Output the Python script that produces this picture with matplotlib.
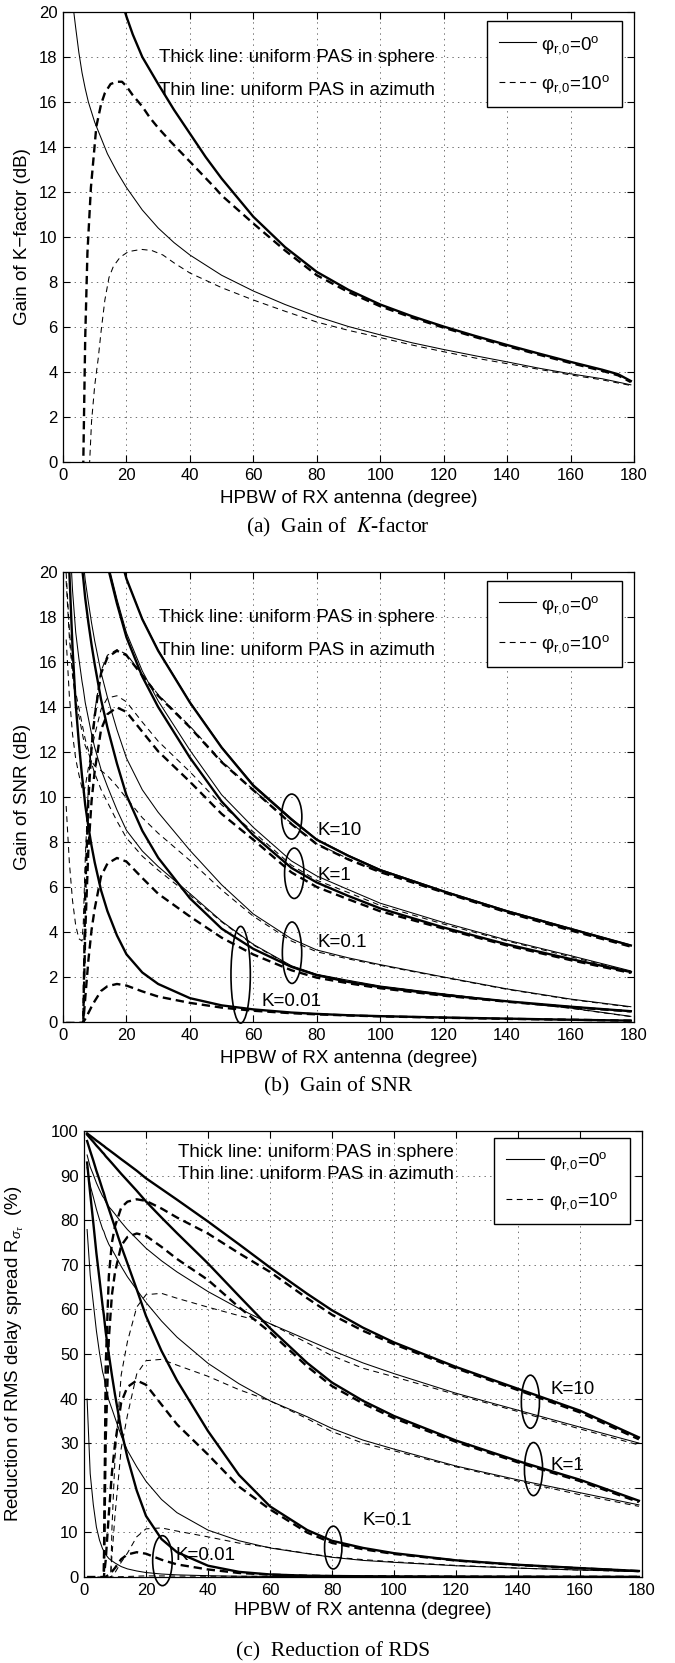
import numpy as np
import matplotlib
matplotlib.use('Agg')
import matplotlib.pyplot as plt
from matplotlib.patches import Ellipse
from matplotlib.lines import Line2D

plt.rcParams['font.family'] = ['Liberation Sans', 'DejaVu Sans']
plt.rcParams['mathtext.fontset'] = 'custom'
plt.rcParams['mathtext.rm'] = 'Liberation Sans'
plt.rcParams['mathtext.it'] = 'Liberation Sans:italic'
plt.rcParams['mathtext.bf'] = 'Liberation Sans:bold'
plt.rcParams['lines.scale_dashes'] = False

# ---------------- data: panel (a) gain of K-factor (dB) ----------------
A_X_SPH_0 = [18, 20, 22, 25, 30, 35, 40, 45, 50, 60, 70, 80, 90, 100, 110, 120, 130, 140, 150, 160, 170, 175, 179]
A_Y_SPH_0 = [20.7, 19.8, 19.0, 18.0, 16.8, 15.65, 14.6, 13.55, 12.6, 10.9, 9.55, 8.45, 7.65, 7.0, 6.48, 6.02, 5.6, 5.2, 4.82, 4.45, 4.1, 3.9, 3.6]
A_X_SPH_10 = [6.0, 6.4, 7.0, 7.7, 8.8, 10.5, 12, 13.2, 15, 17, 18.6, 20, 22, 25, 27.4, 30, 34.2, 40, 47.8, 50, 60, 70, 80, 90, 100, 110, 120, 130, 140, 150, 160, 170, 175, 179]
A_Y_SPH_10 = [-5, 0.0, 5.5, 9.3, 12.2, 14.9, 15.9, 16.4, 16.8, 16.9, 16.9, 16.7, 16.3, 15.8, 15.3, 14.85, 14.2, 13.35, 12.2, 11.85, 10.6, 9.4, 8.3, 7.55, 6.92, 6.42, 5.97, 5.55, 5.15, 4.77, 4.4, 4.05, 3.85, 3.55]
A_X_AZI_0 = [3.0, 3.4, 4, 5, 6, 7, 8, 10, 12, 14, 17, 20, 25, 30, 35, 40, 50, 60, 70, 80, 90, 100, 110, 120, 130, 140, 150, 160, 170, 179]
A_Y_AZI_0 = [21.0, 20.0, 19.3, 18.2, 17.3, 16.6, 16.0, 15.1, 14.4, 13.7, 12.9, 12.2, 11.2, 10.4, 9.75, 9.2, 8.3, 7.6, 7.0, 6.47, 6.02, 5.65, 5.3, 5.0, 4.72, 4.45, 4.17, 3.92, 3.7, 3.43]
A_X_AZI_10 = [8.2, 8.4, 9, 10, 11.1, 12, 13.2, 14.5, 15.9, 18, 20.6, 24.7, 28, 31.5, 35, 40, 50, 60, 70, 80, 90, 100, 110, 120, 130, 140, 150, 160, 170, 179]
A_Y_AZI_10 = [-2, 0.0, 1.8, 3.4, 4.6, 5.8, 7.2, 8.2, 8.7, 9.1, 9.35, 9.45, 9.4, 9.2, 8.85, 8.4, 7.75, 7.2, 6.7, 6.22, 5.85, 5.53, 5.2, 4.9, 4.62, 4.37, 4.12, 3.87, 3.65, 3.4]

# ---------------- shared HPBW grid for panels (b) and (c) ----------------
HPBW = [1, 2, 3, 4, 5, 6, 6.4, 7, 8, 9, 10, 12, 14, 17, 20, 25, 30, 40, 50, 60, 72, 80, 90, 100, 120, 140, 160, 179]

# ---------------- panel (b) gain of SNR (dB) ----------------
B_SPH_0_K10 = [45.6, 39.6, 36.2, 33.6, 31.8, 30.2, 29.7, 28.8, 27.7, 26.7, 25.8, 24.2, 22.9, 21.2, 19.7, 17.9, 16.5, 14.2, 12.2, 10.5, 9.0, 8.1, 7.38, 6.75, 5.8, 4.92, 4.14, 3.4]
B_SPH_0_K1 = [43.0, 37.0, 33.6, 31.0, 29.2, 27.6, 27.1, 26.2, 25.1, 24.1, 23.2, 21.6, 20.3, 18.6, 17.1, 15.35, 14.0, 11.75, 9.8, 8.3, 6.85, 6.2, 5.6, 5.05, 4.2, 3.45, 2.8, 2.22]
B_SPH_0_K01 = [35.6, 29.6, 26.2, 23.6, 21.8, 20.2, 19.7, 18.84, 17.75, 16.77, 15.89, 14.33, 13.09, 11.49, 10.08, 8.5, 7.3, 5.5, 4.15, 3.25, 2.45, 2.08, 1.78, 1.55, 1.2, 0.92, 0.68, 0.48]
B_SPH_0_K001 = [25.97, 20.0, 16.65, 14.13, 12.41, 10.92, 10.46, 9.65, 8.68, 7.83, 7.09, 5.85, 4.93, 3.85, 3.01, 2.2, 1.69, 1.06, 0.74, 0.56, 0.42, 0.36, 0.3, 0.26, 0.2, 0.15, 0.1, 0.06]

B_SPH_10_K10 = [None, None, None, None, None, -3.4, 0.0, 5.7, 9.9, 12.2, 13.6, 15.5, 16.2, 16.5, 16.3, 15.4, 14.5, 13.1, 11.55, 10.3, 8.8, 7.9, 7.22, 6.66, 5.76, 4.87, 4.07, 3.35]
B_SPH_10_K1 = [None, None, None, None, None, -1.5, 0.0, 3.96, 7.67, 9.82, 11.16, 13.0, 13.68, 13.98, 13.78, 12.9, 12.03, 10.68, 9.25, 8.1, 6.65, 6.0, 5.45, 4.92, 4.15, 3.4, 2.75, 2.18]
B_SPH_10_K01 = [None, None, None, None, None, -0.24, 0.0, 1.04, 2.74, 4.09, 5.04, 6.48, 7.04, 7.29, 7.13, 6.4, 5.7, 4.69, 3.75, 3.0, 2.3, 1.97, 1.72, 1.5, 1.17, 0.9, 0.66, 0.47]
B_SPH_10_K001 = [-0.04, -0.04, -0.04, -0.04, -0.04, -0.03, 0.0, 0.13, 0.4, 0.68, 0.93, 1.38, 1.59, 1.69, 1.62, 1.36, 1.13, 0.85, 0.64, 0.5, 0.39, 0.34, 0.29, 0.25, 0.19, 0.14, 0.1, 0.06]

B_AZI_0_K10 = [45.6, 39.6, 36.2, 33.6, 31.8, 30.2, 29.7, 28.8, 27.7, 26.7, 25.8, 24.2, 22.9, 21.2, 19.7, 17.92, 16.53, 14.23, 12.23, 10.55, 9.05, 8.12, 7.41, 6.78, 5.83, 4.95, 4.16, 3.42]
B_AZI_0_K1 = [43.0, 37.0, 33.6, 31.0, 29.2, 27.7, 27.2, 26.3, 25.2, 24.3, 23.3, 21.7, 20.5, 18.8, 17.3, 15.6, 14.27, 12.08, 10.1, 8.65, 7.16, 6.49, 5.88, 5.28, 4.42, 3.64, 2.95, 2.27]
B_AZI_0_K01 = [35.7, 29.8, 26.5, 24.1, 22.4, 20.93, 20.46, 19.65, 18.66, 17.74, 16.93, 15.53, 14.43, 12.99, 11.73, 10.32, 9.32, 7.63, 6.1, 4.8, 3.7, 3.2, 2.85, 2.55, 2.0, 1.47, 1.02, 0.68]
B_AZI_0_K001 = [26.9, 21.9, 19.19, 17.33, 16.16, 15.13, 14.8, 14.2, 13.5, 12.8, 12.2, 11.22, 10.47, 9.43, 8.52, 7.6, 6.91, 5.71, 4.48, 3.45, 2.5, 2.12, 1.85, 1.6, 1.25, 0.92, 0.62, 0.25]

B_AZI_10_K10 = [9.6, 7.1, 5.4, 4.3, 3.7, 3.6, 4.4, 7.2, 10.5, 12.5, 13.8, 15.6, 16.3, 16.55, 16.35, 15.45, 14.55, 13.15, 11.6, 10.32, 8.83, 7.93, 7.25, 6.69, 5.79, 4.9, 4.1, 3.38]
B_AZI_10_K1 = [17.0, 14.5, 12.8, 11.7, 11.0, 10.4, 10.2, 10.45, 11.3, 12.1, 12.75, 13.9, 14.4, 14.5, 14.23, 13.33, 12.48, 11.12, 9.65, 8.45, 6.97, 6.3, 5.75, 5.18, 4.35, 3.6, 2.9, 2.24]
B_AZI_10_K01 = [19.6, 17.1, 15.4, 14.3, 13.6, 12.9, 12.6, 12.28, 11.96, 11.6, 11.38, 11.17, 10.95, 10.48, 9.95, 9.08, 8.39, 7.18, 5.87, 4.7, 3.6, 3.12, 2.8, 2.52, 1.98, 1.45, 1.0, 0.66]
B_AZI_10_K001 = [19.96, 17.45, 15.75, 14.65, 13.96, 13.26, 12.98, 12.57, 12.08, 11.5, 11.05, 10.33, 9.77, 8.93, 8.18, 7.37, 6.75, 5.63, 4.45, 3.42, 2.48, 2.1, 1.83, 1.58, 1.24, 0.91, 0.61, 0.24]

# ---------------- panel (c) reduction of RMS delay spread (%) ----------------
C_SPH_0_K10 = [99.46, 98.93, 98.41, 97.86, 97.37, 96.83, 96.64, 96.28, 95.78, 95.26, 94.74, 93.68, 92.66, 91.1, 89.4, 87.0, 84.6, 79.7, 74.6, 69.4, 63.5, 59.8, 55.9, 52.6, 47.1, 42.2, 37.3, 31.3]
C_SPH_0_K1 = [99.18, 98.37, 97.59, 96.74, 95.99, 95.18, 94.9, 94.34, 93.58, 92.8, 92.0, 90.4, 88.88, 86.6, 84.2, 80.6, 77.1, 70.3, 63.0, 55.8, 48.0, 43.6, 39.5, 36.1, 30.6, 26.0, 21.8, 17.1]
C_SPH_0_K01 = [97.75, 95.51, 93.37, 91.07, 89.03, 86.83, 86.06, 84.57, 82.54, 80.46, 78.4, 74.2, 70.33, 64.51, 58.52, 50.7, 44.07, 32.71, 22.87, 15.84, 10.53, 8.12, 6.52, 5.34, 3.74, 2.74, 2.0, 1.35]
C_SPH_0_K001 = [92.92, 85.96, 79.42, 72.6, 66.77, 60.78, 58.74, 54.93, 50.0, 45.26, 40.89, 32.99, 26.82, 19.4, 13.69, 8.5, 5.56, 2.53, 1.15, 0.57, 0.29, 0.22, 0.17, 0.13, 0.09, 0.07, 0.05, 0.03]

C_SPH_10_K10 = [None, None, None, None, None, -44, 0.0, 47.19, 67.4, 74.94, 78.64, 82.82, 84.15, 84.69, 84.33, 82.62, 80.6, 77.0, 72.6, 68.4, 62.5, 58.8, 55.2, 52.2, 46.8, 41.9, 36.9, 30.87]
C_SPH_10_K1 = [None, None, None, None, None, -10.6, 0.0, 30.6, 53.29, 63.21, 68.35, 74.31, 76.23, 77.02, 76.5, 74.02, 71.31, 66.6, 60.5, 54.9, 47.2, 42.8, 38.9, 35.6, 30.3, 25.7, 21.5, 16.79]
C_SPH_10_K01 = [-0.4, -0.4, -0.4, -0.4, -0.4, -0.34, 0.0, 3.74, 14.05, 23.3, 29.81, 39.15, 42.6, 44.07, 43.1, 38.66, 34.22, 27.45, 20.26, 15.16, 9.96, 7.64, 6.22, 5.17, 3.69, 2.68, 1.95, 1.31]
C_SPH_10_K001 = [0.0, 0.0, 0.0, 0.0, 0.0, 0.0, 0.0, 0.07, 0.47, 1.19, 2.03, 4.0, 5.05, 5.56, 5.22, 3.87, 2.82, 1.69, 0.9, 0.53, 0.27, 0.2, 0.15, 0.12, 0.08, 0.06, 0.04, 0.03]

C_AZI_0_K10 = [94.62, 91.95, 90.22, 88.37, 86.81, 85.36, 85.01, 84.15, 83.03, 82.24, 81.38, 79.56, 77.91, 75.83, 73.72, 70.9, 68.4, 64.0, 60.2, 56.8, 53.2, 50.8, 48.0, 45.6, 41.2, 37.4, 33.6, 30.03]
C_AZI_0_K1 = [91.83, 87.81, 85.2, 82.46, 80.14, 78.0, 77.49, 76.23, 74.6, 73.47, 72.24, 69.64, 67.32, 64.43, 61.56, 57.4, 53.78, 47.91, 43.33, 39.49, 35.93, 33.3, 30.7, 28.68, 24.88, 21.78, 18.9, 16.17]
C_AZI_0_K01 = [77.91, 67.69, 61.42, 55.2, 50.26, 45.98, 44.97, 42.6, 39.68, 37.72, 35.69, 31.68, 28.39, 24.72, 21.46, 17.39, 14.42, 10.51, 8.13, 6.51, 5.24, 4.42, 3.72, 3.29, 2.52, 1.99, 1.56, 1.24]
C_AZI_0_K001 = [39.9, 23.18, 16.22, 11.19, 8.27, 6.3, 5.89, 5.03, 4.15, 3.63, 3.14, 2.34, 1.82, 1.35, 1.0, 0.67, 0.48, 0.29, 0.17, 0.12, 0.1, 0.08, 0.07, 0.06, 0.05, 0.05, 0.04, 0.04]

C_AZI_10_K10 = [None, None, None, None, None, None, None, -74.6, -19.0, 10.64, 26.67, 45.32, 52.74, 60.5, 63.3, 63.6, 62.5, 60.5, 58.6, 56.8, 52.5, 49.6, 46.8, 44.9, 40.9, 37.1, 33.2, 29.6]
C_AZI_10_K1 = [None, None, None, None, None, None, -15.0, -13.6, -5.9, 4.6, 13.85, 28.82, 36.21, 45.5, 48.5, 48.8, 47.5, 45.0, 42.0, 39.5, 35.5, 32.6, 30.0, 28.3, 24.7, 21.5, 18.45, 15.84]
C_AZI_10_K01 = [-0.4, -0.4, -0.4, -0.4, -0.4, -0.4, -0.4, -0.4, -0.4, 0.25, 0.98, 3.32, 5.34, 9.0, 10.8, 11.0, 10.3, 9.0, 7.6, 6.6, 5.3, 4.5, 3.9, 3.4, 2.6, 2.0, 1.55, 1.2]
C_AZI_10_K001 = [0.0, 0.0, 0.0, 0.0, 0.0, 0.0, 0.0, 0.0, 0.0, 0.0, 0.04, 0.07, 0.12, 0.19, 0.25, 0.24, 0.21, 0.18, 0.16, 0.14, 0.11, 0.1, 0.09, 0.08, 0.07, 0.05, 0.05, 0.04]

X_TICKS = [0, 20, 40, 60, 80, 100, 120, 140, 160, 180]
LEGEND_LABELS = ['φ$_{\\mathrm{r{,}0}}$=0$^{\\mathrm{o}}$', 'φ$_{\\mathrm{r{,}0}}$=10$^{\\mathrm{o}}$']
NOTE_THICK = 'Thick line: uniform PAS in sphere'
NOTE_THIN = 'Thin line: uniform PAS in azimuth'

# ---------------- styles ----------------
THICK = 1.7
THIN = 0.75
DASH_THICK = (0, (6.0, 3.5))
DASH_THIN = (0, (4.2, 3.2))
TICK_FS = 12
LABEL_FS = 13.5
NOTE_FS = 13.5
CAP_FS = 15.5

fig = plt.figure(figsize=(6.75, 16.63), dpi=100)
H = 1663.0
W = 675.0
ax_a = fig.add_axes([63 / W, 1 - 462 / H, 571 / W, 450 / H])
ax_b = fig.add_axes([63 / W, 1 - 1022 / H, 571 / W, 450 / H])
ax_c = fig.add_axes([84 / W, 1 - 1577 / H, 558 / W, 446 / H])


def style(ax, ymax, ystep):
    ax.set_xlim(0, 180)
    ax.set_ylim(0, ymax)
    ax.set_xticks(X_TICKS)
    ax.set_yticks(np.arange(0, ymax + 0.1, ystep))
    ax.tick_params(direction='in', top=True, right=True, length=5, width=0.8,
                   labelsize=TICK_FS, pad=4)
    ax.grid(True, linestyle=(0, (1, 3)), color='0.35', linewidth=0.6)
    ax.set_axisbelow(True)
    for s in ax.spines.values():
        s.set_linewidth(0.9)
    ax.set_xlabel('HPBW of RX antenna (degree)', fontsize=LABEL_FS)


def add_legend(ax, anchor):
    handles = [Line2D([], [], color='k', lw=0.8, ls='-'),
               Line2D([], [], color='k', lw=0.8, ls=DASH_THIN)]
    leg = ax.legend(handles, LEGEND_LABELS, loc='upper right', bbox_to_anchor=anchor,
                    borderaxespad=0, fontsize=13.5, handlelength=2.0, handletextpad=0.25,
                    labelspacing=0.95, borderpad=0.65, frameon=True, fancybox=False,
                    edgecolor='k', framealpha=1)
    leg.get_frame().set_linewidth(1.0)


def arr(v):
    return np.array(v, dtype=float)


# ---------------- panel (a) ----------------
style(ax_a, 20, 2)
ax_a.plot(A_X_AZI_0, A_Y_AZI_0, color='k', lw=THIN, ls='-')
ax_a.plot(A_X_AZI_10, A_Y_AZI_10, color='k', lw=THIN, ls=DASH_THIN)
ax_a.plot(A_X_SPH_0, A_Y_SPH_0, color='k', lw=THICK, ls='-')
ax_a.plot(A_X_SPH_10, A_Y_SPH_10, color='k', lw=THICK, ls=DASH_THICK)
ax_a.set_ylabel('Gain of K\u2212factor (dB)', fontsize=LABEL_FS)
ax_a.text(30.2, 18.0, NOTE_THICK, fontsize=NOTE_FS, va='center', ha='left')
ax_a.text(30.2, 16.5, NOTE_THIN, fontsize=NOTE_FS, va='center', ha='left')
add_legend(ax_a, (0.979, 0.979))

# ---------------- panel (b) ----------------
style(ax_b, 20, 2)
x = arr(HPBW)
for ys in [B_AZI_0_K10, B_AZI_0_K1, B_AZI_0_K01, B_AZI_0_K001]:
    ax_b.plot(x, arr(ys), color='k', lw=THIN, ls='-')
for ys in [B_AZI_10_K10, B_AZI_10_K1, B_AZI_10_K01, B_AZI_10_K001]:
    ax_b.plot(x, arr(ys), color='k', lw=THIN, ls=DASH_THIN)
for ys in [B_SPH_0_K10, B_SPH_0_K1, B_SPH_0_K01, B_SPH_0_K001]:
    ax_b.plot(x, arr(ys), color='k', lw=THICK, ls='-')
for ys in [B_SPH_10_K10, B_SPH_10_K1, B_SPH_10_K01, B_SPH_10_K001]:
    ax_b.plot(x, arr(ys), color='k', lw=THICK, ls=DASH_THICK)
ax_b.set_ylabel('Gain of SNR (dB)', fontsize=LABEL_FS)
ax_b.text(30.2, 18.0, NOTE_THICK, fontsize=NOTE_FS, va='center', ha='left')
ax_b.text(30.2, 16.5, NOTE_THIN, fontsize=NOTE_FS, va='center', ha='left')
add_legend(ax_b, (0.979, 0.979))
for (cx, cy, w, h) in [(72.1, 9.13, 6.4, 2.0), (72.9, 6.61, 6.1, 2.24),
                       (72.2, 3.08, 6.1, 2.73), (56.0, 2.1, 6.1, 4.3)]:
    ax_b.add_patch(Ellipse((cx, cy), w, h, fill=False, ec='k', lw=1.2, clip_on=False))
for (tx, ty, s) in [(80.2, 8.53, 'K=10'), (80.2, 6.53, 'K=1'),
                    (80.2, 3.53, 'K=0.1'), (62.5, 0.91, 'K=0.01')]:
    ax_b.text(tx, ty, s, fontsize=NOTE_FS, va='center', ha='left')

# ---------------- panel (c) ----------------
style(ax_c, 100, 10)
for ys in [C_AZI_0_K10, C_AZI_0_K1, C_AZI_0_K01, C_AZI_0_K001]:
    ax_c.plot(x, arr(ys), color='k', lw=THIN, ls='-')
for ys in [C_AZI_10_K10, C_AZI_10_K1, C_AZI_10_K01, C_AZI_10_K001]:
    ax_c.plot(x, arr(ys), color='k', lw=THIN, ls=DASH_THIN)
for ys in [C_SPH_0_K10, C_SPH_0_K1, C_SPH_0_K01, C_SPH_0_K001]:
    ax_c.plot(x, arr(ys), color='k', lw=THICK, ls='-')
for ys in [C_SPH_10_K10, C_SPH_10_K1, C_SPH_10_K01, C_SPH_10_K001]:
    ax_c.plot(x, arr(ys), color='k', lw=THICK, ls=DASH_THICK)
ax_c.set_ylabel('Reduction of RMS delay spread R$_{\\sigma_{\\tau}}$  (%)', fontsize=LABEL_FS)
ax_c.text(30.2, 95.2, NOTE_THICK, fontsize=NOTE_FS, va='center', ha='left')
ax_c.text(30.2, 90.3, NOTE_THIN, fontsize=NOTE_FS, va='center', ha='left')
add_legend(ax_c, (0.978, 0.984))
for (cx, cy, w, h) in [(144.0, 39.3, 5.85, 11.9), (145.0, 24.2, 5.85, 11.9),
                       (80.4, 6.6, 5.6, 9.6), (25.3, 3.66, 6.3, 11.2)]:
    ax_c.add_patch(Ellipse((cx, cy), w, h, fill=False, ec='k', lw=1.2, clip_on=False))
for (tx, ty, s) in [(150.4, 42.1, 'K=10'), (150.4, 25.0, 'K=1'),
                    (90.0, 12.6, 'K=0.1'), (29.4, 4.93, 'K=0.01')]:
    ax_c.text(tx, ty, s, fontsize=NOTE_FS, va='center', ha='left')

# label positions
for ax, yl_x, xl_y in [(ax_a, -0.0718, -0.082), (ax_b, -0.0718, -0.082), (ax_c, -0.124, -0.076)]:
    ax.yaxis.set_label_coords(yl_x, 0.5)
    ax.yaxis.label.set_verticalalignment('center')
    ax.xaxis.set_label_coords(0.5, xl_y)
    ax.xaxis.label.set_verticalalignment('center')

# captions
fig.text(338 / W, 1 - 527 / H, '(a)  Gain of  $K$-factor', ha='center', va='center',
         fontsize=CAP_FS, family='Liberation Serif', math_fontfamily='stix')
fig.text(338 / W, 1 - 1087 / H, '(b)  Gain of SNR', ha='center', va='center',
         fontsize=CAP_FS, family='Liberation Serif')
fig.text(333 / W, 1 - 1652 / H, '(c)  Reduction of RDS', ha='center', va='center',
         fontsize=CAP_FS, family='Liberation Serif')

fig.savefig('out.png', dpi=100)
